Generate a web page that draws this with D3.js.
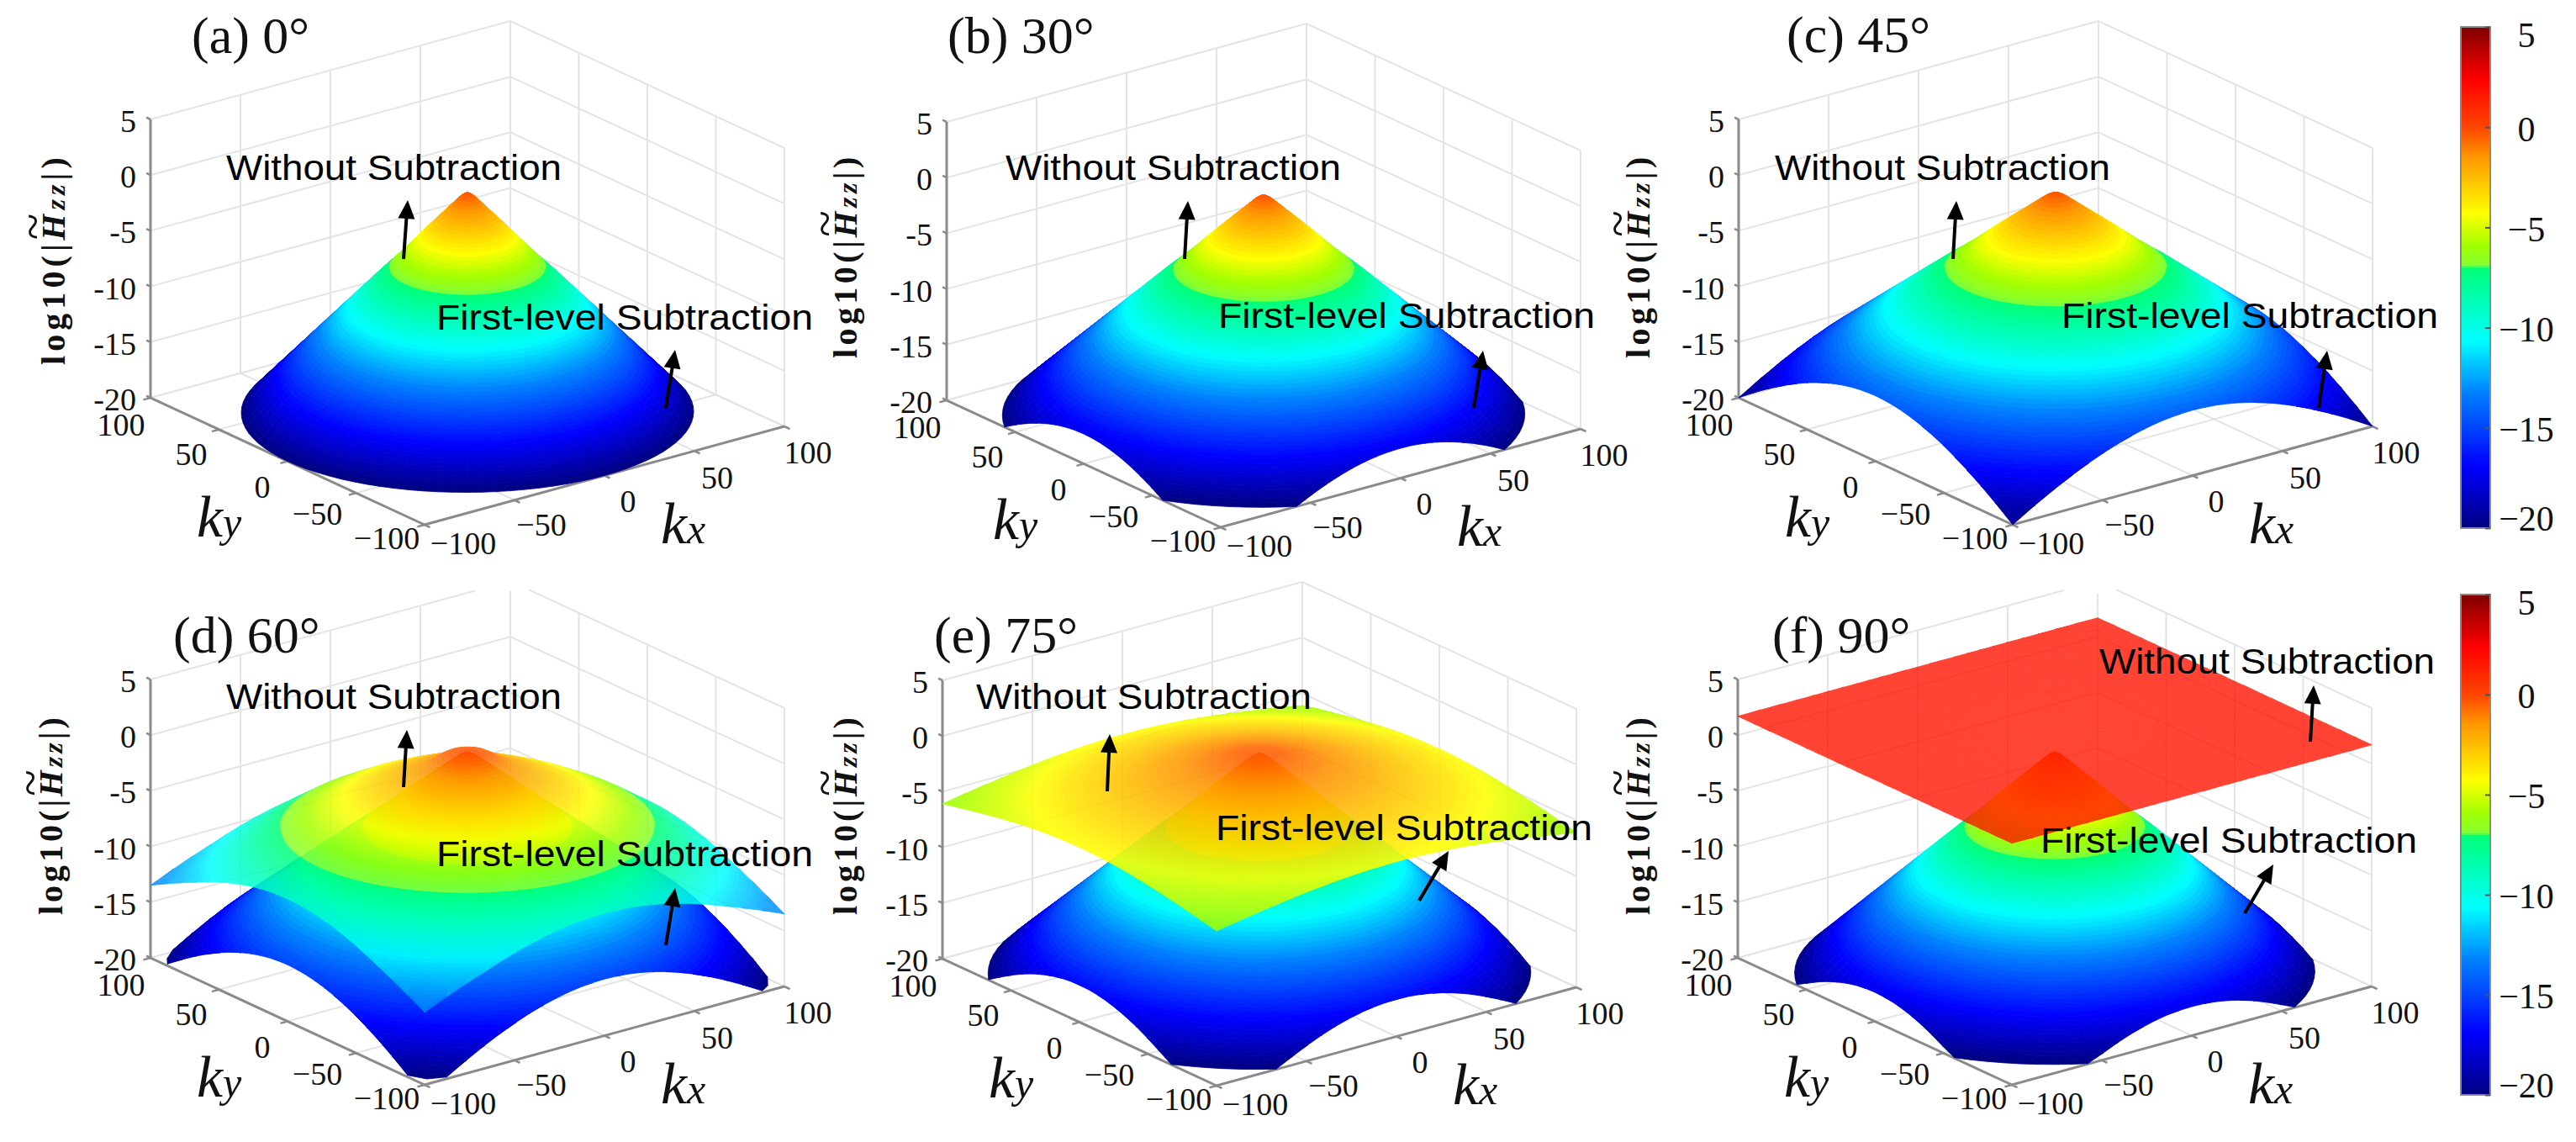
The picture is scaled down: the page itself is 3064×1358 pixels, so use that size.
<!DOCTYPE html>
<html><head><meta charset="utf-8">
<style>html,body{margin:0;padding:0;background:#fff}svg{display:block}</style>
<script src="https://cdn.jsdelivr.net/npm/d3@7"></script>
</head><body><svg id="chart" width="3064" height="1358" viewBox="0 0 3064 1358"></svg>
<script>
// ---------- values ----------
const panelTitles = ["(a) 0°","(b) 30°","(c) 45°","(d) 60°","(e) 75°","(f) 90°"];
const zTicks = [5,0,-5,-10,-15,-20];
const kTicks = [100,50,0,-50,-100];
const kLabels = ["100","50","0","−50","−100"];
const colorbarTicks = [5,0,-5,-10,-15,-20];
// colormap
const colorValues = [-20,-16.9,-13.2,-10.6,-7.05,-6.85,-5.9,-4.3,-1.45,0,2.4,5];
const colorStops  = ["#00007f","#0000ff","#0082ff","#00ffff","#00ff78","#88ff30","#a0ff00","#ffff00","#ff9600","#ff4600","#ff0000","#800000"];
// First-level subtraction: height against normalised radius
const lowerRadius = [0,2,4,7,10,20,30,40,50,60,70,80,90,100];
const lowerHeight = [-0.3,-0.45,-0.8,-1.4,-2,-4,-6.1,-8,-10,-12,-14,-16,-18,-20];
// radius at which the first-level surface reaches -20, per panel
const cutRadius = [100,115.5,141.5,134,120,115];
// Without subtraction: height against radius (panels d, e, f)
const upperRadius = [0,10,20,40,60,80,100,120,141.5];
const upperHeightD = [-0.1,-0.5,-1.6,-3.1,-4.7,-6.6,-9,-11.3,-13.5];
const upperHeightE = [-0.4,-0.5,-0.9,-1.7,-2.6,-3.4,-4.3,-5.2,-6.1];
const upperHeightF = [1.5,1.55,1.6,1.65,1.7,1.7,1.7,1.7,1.7];
const upperHeights = [null,null,null,upperHeightD,upperHeightE,upperHeightF];

// ---------- layout ----------
const frontX = [505,1452,2394,505,1447,2393];
const frontY = [624,627,624,1290,1291,1290];
const withoutXY = [[269,214],[1196,214],[2111,214],[269,843],[1161,843],[2497,801]];
const firstXY   = [[519,392],[1449,390],[2452,390],[519,1030],[1446,999],[2427,1014]];
const titleXY   = [[228,63],[1127,63],[2125,62],[206,776],[1111,776],[2108,776]];
const arrowW = [[480,308,485,238],[1409,308,1413,239],[2323,308,2327,239],[480,936,484,868],[1317,941,1320,873],[2748,882,2752,815]];
const arrowF = [[792,485,803,416],[1753,485,1764,417],[2758,485,2768,417],[792,1124,803,1056],[1688,1071,1723,1012],[2670,1086,2704,1028]];
const yLabelXY = [[77,434,239],[1019,426,231],[1962,426,231],[74,1088,226],[1019,1088,226],[1962,1088,226]];
const kyLabelOff = [[-35,32],[-33,29],[-30,30],[-46,25],[-45,16]];
const kxLabelOff = [[28,31],[27,32],[28,30],[32,29],[46,22]];
const upperOpacity = [0,0,0,0.85,0.88,0.8];
const axisGrey = "#8a8a8a", gridGrey = "#e4e4e4";

// ---------- scales ----------
const kxToX = d3.scaleLinear([-100,100],[0,428]);
const kxToY = d3.scaleLinear([-100,100],[0,-117]);
const kyToX = d3.scaleLinear([-100,100],[0,-326]);
const kyToY = d3.scaleLinear([-100,100],[0,-151]);
const zToH  = d3.scaleLinear([-20,5],[0,331]);
const color = d3.scaleLinear(colorValues,colorStops).clamp(true);
const lowerProfile = d3.scaleLinear(lowerRadius,lowerHeight).clamp(true);
const upperProfile = h => d3.scaleLinear(upperRadius,h).clamp(true);

const svg = d3.select("#chart");
const serif = "'Liberation Serif','Times New Roman',serif";
const sans  = "'Liberation Sans',Arial,sans-serif";

function projector(i){
  return (kx,ky,z)=>[frontX[i]+kxToX(kx)+kyToX(ky), frontY[i]+kxToY(kx)+kyToY(ky)-zToH(z)];
}
const lineGen = d3.line();

// polar mesh with circular rings, clipped to the square
const nA = 96, nR = 72;
function buildMesh(P, limit, zOf, cull){
  const grid = d3.range(nA+1).map(a=>{
    const th = a/nA*2*Math.PI;
    const c = Math.cos(th), s = Math.sin(th);
    const rm = Math.min(limit, 100/Math.max(Math.abs(c),Math.abs(s)));
    return d3.range(nR+1).map(k=>{
      const r = Math.min(rm, limit*k/nR), kx = r*c, ky = r*s, z = zOf(r);
      return {kx,ky,z,p:P(kx,ky,z)};
    });
  });
  const quads = [];
  for(let a=0;a<nA;a++) for(let k=0;k<nR;k++){
    const q=[grid[a][k],grid[a+1][k],grid[a+1][k+1],grid[a][k+1]];
    const pts=q.map(d=>d.p);
    const area=d3.polygonArea(pts);
    if(Math.abs(area)<0.02) continue;
    if(cull && area>0) continue;
    quads.push({
      d:"M"+pts.map(p=>p[0].toFixed(1)+","+p[1].toFixed(1)).join("L")+"Z",
      z:d3.mean(q,d=>d.z),
      depth:d3.mean(q,d=>326*d.kx+428*d.ky)
    });
  }
  return quads.sort((u,v)=>v.depth-u.depth);
}
function drawMesh(parent,quads,opacity){
  const g=parent.append("g").attr("opacity",opacity);
  g.selectAll("path").data(quads).join("path")
    .attr("d",d=>d.d)
    .attr("fill",d=>color(d.z))
    .attr("stroke",d=>color(d.z))
    .attr("stroke-width",0.8)
    .attr("stroke-linejoin","round");
}
function drawArrow(g,a){
  const [x0,y0,x1,y1]=a;
  const L=Math.hypot(x1-x0,y1-y0),ux=(x1-x0)/L,uy=(y1-y0)/L,hl=22,hw=10;
  g.append("line").attr("x1",x0).attr("y1",y0).attr("x2",x1-ux*hl*0.8).attr("y2",y1-uy*hl*0.8)
    .attr("stroke","#000").attr("stroke-width",4);
  const bx=x1-ux*hl,by=y1-uy*hl;
  g.append("path").attr("fill","#000")
    .attr("d",`M${x1},${y1}L${bx-uy*hw},${by+ux*hw}L${bx+uy*hw},${by-ux*hw}Z`);
}

panelTitles.forEach((title,i)=>{
  const P=projector(i);
  const g=svg.append("g").attr("class","panel");
  // walls and floor grid
  const grid=g.append("g").attr("fill","none").attr("stroke",gridGrey).attr("stroke-width",2);
  const seg=pts=>grid.append("path").attr("d",lineGen(pts));
  zTicks.forEach(z=>{
    seg([P(-100,100,z),P(100,100,z),P(100,-100,z)]);
  });
  kTicks.forEach(k=>{
    seg([P(k,100,-20),P(k,100,5)]);
    seg([P(100,k,-20),P(100,k,5)]);
    seg([P(k,-100,-20),P(k,100,-20)]);
    seg([P(-100,k,-20),P(100,k,-20)]);
  });
  // faded top corner, as in the reference crop
  if(i===3) g.append("rect").attr("x",565).attr("y",680).attr("width",65).attr("height",23).attr("fill","#fff");
  if(i===5) g.append("rect").attr("x",2455).attr("y",680).attr("width",62).attr("height",26).attr("fill","#fff");
  // axes
  const ax=g.append("g").attr("fill","none").attr("stroke",axisGrey);
  ax.append("path").attr("stroke-width",3).attr("d",lineGen([P(-100,100,5),P(-100,100,-20),P(-100,-100,-20),P(100,-100,-20)]));
  zTicks.forEach(z=>ax.append("path").attr("stroke-width",2.5).attr("d",lineGen([P(-100,100,z),P(-100,103,z)])));
  kTicks.forEach(k=>{
    ax.append("path").attr("stroke-width",2.5).attr("d",lineGen([P(-100,k,-20),P(-104,k,-20)]));
    ax.append("path").attr("stroke-width",2.5).attr("d",lineGen([P(k,-100,-20),P(k,-104,-20)]));
  });
  // tick labels
  const tl=g.append("g").attr("font-family",serif).attr("font-size",38).attr("fill","#111");
  zTicks.forEach(z=>{
    const p=P(-100,100,z);
    tl.append("text").attr("x",p[0]-17).attr("y",p[1]+15).attr("text-anchor","end").text(z);
  });
  kTicks.forEach((k,j)=>{
    const a=P(-100,k,-20), b=P(k,-100,-20), t=kLabels[j];
    tl.append("text").attr("x",a[0]+kyLabelOff[j][0]).attr("y",a[1]+kyLabelOff[j][1]+13).attr("text-anchor","middle").text(t);
    tl.append("text").attr("x",b[0]+kxLabelOff[j][0]).attr("y",b[1]+kxLabelOff[j][1]+13).attr("text-anchor","middle").text(t);
  });
  // surfaces
  const lim=cutRadius[i];
  drawMesh(g,buildMesh(P,lim,r=>lowerProfile(r*100/lim),true),1);
  if(upperHeights[i]){
    drawMesh(g,buildMesh(P,142,upperProfile(upperHeights[i]),false),upperOpacity[i]);
  }
  // axis titles
  const f=P(-100,-100,-20);
  const mk=(x,y,a,b)=>{
    const t=g.append("text").attr("x",x).attr("y",y).attr("font-family",serif).attr("font-style","italic").attr("font-size",70).attr("fill","#111");
    t.append("tspan").text(a); t.append("tspan").attr("font-size",50).text(b);
  };
  mk(f[0]-271,f[1]+14,"k","y");
  mk(f[0]+281,f[1]+22,"k","x");
  // z label: the tilde sits in the same text, raised over the H
  const [lx,ly,ll]=yLabelXY[i];
  const yt=g.append("text").attr("transform",`translate(${lx},${ly}) rotate(-90)`)
    .attr("font-family",serif).attr("font-weight","bold").attr("fill","#111")
    .attr("font-size",40).attr("letter-spacing",(ll-178)/12);
  yt.append("tspan").text("log10(|");
  yt.append("tspan").attr("font-size",58).attr("font-weight","normal").attr("dy",-19).attr("dx",0).attr("letter-spacing",0).text("~");
  yt.append("tspan").attr("font-style","italic").attr("dy",19).attr("dx",-32).text("H");
  yt.append("tspan").attr("font-style","italic").attr("font-size",32).text("zz");
  yt.append("tspan").text("|)");
  // title
  g.append("text").attr("x",titleXY[i][0]).attr("y",titleXY[i][1]).attr("font-family",serif).attr("font-size",62).attr("fill","#111").text(title);
  // annotations
  const label=(xy,txt,len)=>g.append("text").attr("x",xy[0]).attr("y",xy[1]).attr("font-family",sans).attr("font-size",42)
    .attr("textLength",len).attr("lengthAdjust","spacingAndGlyphs").attr("fill","#000").text(txt);
  label(withoutXY[i],"Without Subtraction",399);
  label(firstXY[i],"First-level Subtraction",448);
  drawArrow(g,arrowW[i]);
  drawArrow(g,arrowF[i]);
});

// colour bars
const barExtents=[[32,628],[707,1302]];
barExtents.forEach(([top,bottom])=>{
  const scale=d3.scaleLinear([-20,5],[bottom,top]);
  const cb=svg.append("g").attr("class","colorbar");
  const steps=d3.range(-20,5,0.1);
  cb.selectAll("rect").data(steps).join("rect")
    .attr("x",2927).attr("width",35)
    .attr("y",d=>scale(d+0.1)-0.4)
    .attr("height",d=>scale(d)-scale(d+0.1)+0.8)
    .attr("fill",d=>color(d+0.05));
  cb.append("rect").attr("x",2927).attr("y",top).attr("width",35).attr("height",bottom-top)
    .attr("fill","none").attr("stroke","#8a8a8a").attr("stroke-width",2);
  const axis=d3.axisRight(scale).tickValues(colorbarTicks).tickSize(-6).tickPadding(0).tickFormat(d3.format("d"));
  const ag=cb.append("g").attr("transform","translate(2962,0)").call(axis);
  ag.select(".domain").remove();
  ag.selectAll("line").attr("stroke","#555").attr("stroke-width",2);
  ag.selectAll("text").attr("x",43).attr("text-anchor","middle").attr("font-family",serif).attr("font-size",42).attr("fill","#111")
    .attr("dy",d=>d===5?"0.32em":d===-20?"0.05em":"0.38em")
    .attr("transform",d=>d===5?"translate(0,10)":null);
});
</script></body></html>
